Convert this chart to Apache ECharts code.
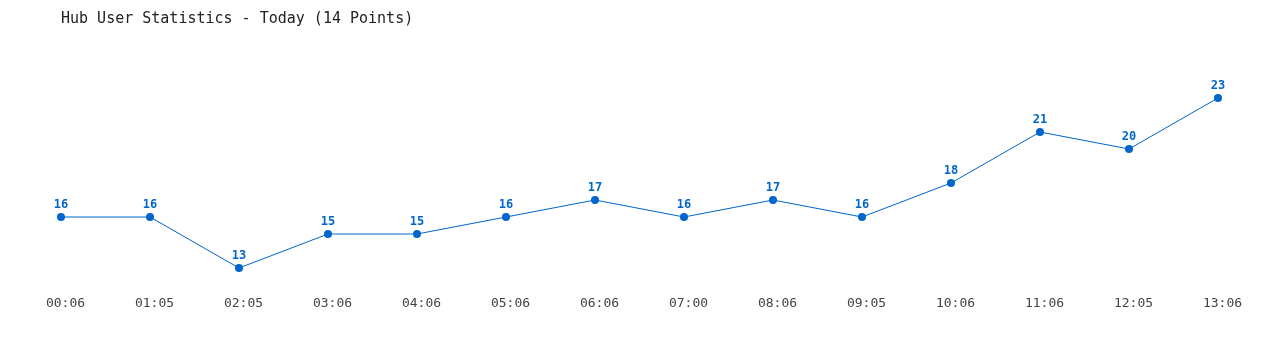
<!DOCTYPE html>
<html>
<head>
<meta charset="utf-8">
<script src="https://cdn.jsdelivr.net/npm/echarts@6/dist/echarts.min.js"></script>
<style>html,body{margin:0;padding:0;background:#fff}#c{width:1280px;height:350px}</style>
</head>
<body>
<div id="c"></div>
<script>
const titleText = "Hub User Statistics - Today (14 Points)";
const categories = ["00:06","01:05","02:05","03:06","04:06","05:06","06:06","07:00","08:06","09:05","10:06","11:06","12:05","13:06"];
const users = [16,16,13,15,15,16,17,16,17,16,18,21,20,23];

const chart = echarts.init(document.getElementById('c'), null, {renderer:'canvas'});
chart.setOption({
  animation: false,
  backgroundColor: '#ffffff',
  title: {
    text: titleText,
    left: 56, top: 7,
    textStyle: {fontFamily: 'DejaVu Sans Mono', fontSize: 15, fontWeight: 'normal', color: '#222'}
  },
  grid: {left: 61, right: 62, top: 64, bottom: 65},
  xAxis: {
    type: 'category',
    data: categories,
    boundaryGap: false,
    axisLine: {show: false},
    axisTick: {show: false},
    splitLine: {show: false},
    axisLabel: {margin: 12, padding: [0, 0, 0, 9], fontFamily: 'DejaVu Sans Mono', fontSize: 13, color: '#444'}
  },
  yAxis: {
    type: 'value', min: 12, max: 25, show: false
  },
  series: [{
    type: 'line',
    data: users,
    symbol: 'circle',
    symbolSize: 8,
    lineStyle: {color: '#0066cc', width: 1},
    itemStyle: {color: '#0066cc'},
    label: {show: true, position: 'top', distance: 2, fontFamily: 'DejaVu Sans Mono', fontSize: 12, fontWeight: 'bold', color: '#0066cc'}
  }]
});
</script>
</body>
</html>
